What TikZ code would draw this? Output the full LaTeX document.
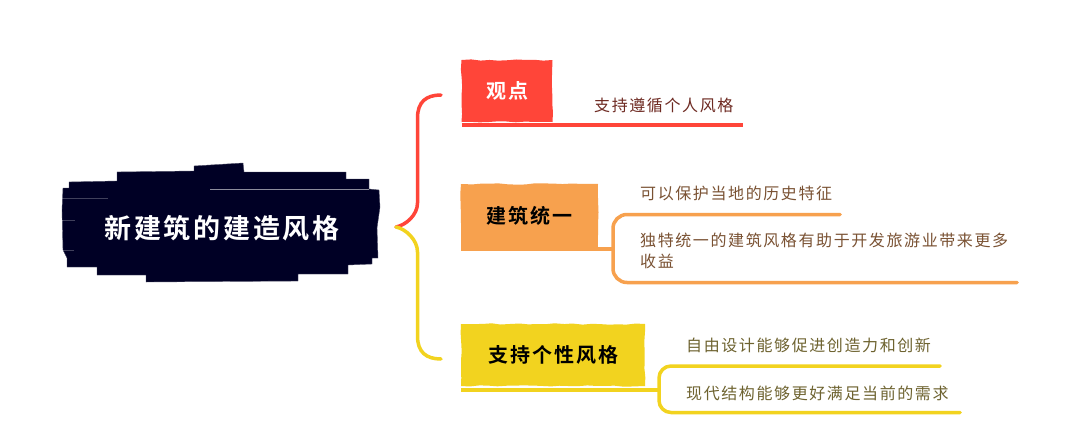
\documentclass[tikz,border=0pt]{standalone}
\usepackage{fontspec}
\usepackage{xcolor}
\usetikzlibrary{decorations.pathmorphing}
\newfontfamily\titlefont[LetterSpace=10]{Noto Sans CJK SC Bold}
\newfontfamily\leaffont[LetterSpace=10]{Noto Sans CJK SC}
\definecolor{navyink}{HTML}{000025}
\definecolor{redink}{HTML}{FF4539}
\definecolor{orangeink}{HTML}{F7A14E}
\definecolor{yellowink}{HTML}{F2D31F}
\definecolor{redtext}{HTML}{6E2A22}
\definecolor{orangetext}{HTML}{7A5233}
\definecolor{yellowtext}{HTML}{6E6330}
\tikzset{
	topicbox/.style={inner sep=0pt,outer sep=0pt,font=\titlefont\fontsize{20}{24}\selectfont,decorate,decoration={random steps,segment length=9pt,amplitude=0.7pt}},
	leaftext/.style={anchor=west,inner sep=0pt,font=\leaffont\fontsize{16}{21}\selectfont,align=left},
	branchline/.style={line width=3.5pt,line cap=round,rounded corners=#1},
	branchline/.default=16pt
}
\begin{document}
\begin{tikzpicture}[x=1pt,y=-1pt]
	\pgfmathsetseed{7}
	\useasboundingbox[fill=white] (0,0) rectangle (1080,434);
	%central topic
	\fill[navyink,draw=navyink!70!white,line width=0.4pt] (194,166) -- (243,163) -- (244,172) -- (346,172) -- (346,179) -- (369,179) -- (369,189) -- (379,190) -- (380,207) -- (377,228) -- (378,258) -- (372,258) -- (372,264) -- (348,265) -- (348,274) -- (298,274) -- (298,281) -- (146,282) -- (146,275) -- (97,275) -- (97,267) -- (67,267) -- (67,258) -- (63,250) -- (62,210) -- (63,188) -- (69,188) -- (69,182) -- (117,181) -- (117,172) -- (194,171) -- cycle;
	\draw[white,opacity=0.55,line width=0.7pt] (210,189) -- (369,189);
	\draw[white,opacity=0.25,line width=0.5pt] (63,198) -- (108,198);
	\draw[white,opacity=0.25,line width=0.5pt] (62,220) -- (75,220);
	\draw[white,opacity=0.25,line width=0.5pt] (63,250) -- (74,250);
	\node (CT_root) at (222,228) [inner sep=0pt,text=white,font=\titlefont\fontsize{27}{30}\selectfont] {新建筑的建造风格};
	\coordinate (CT_fork) at (396,227);
	
	%first topic
	\node (TP_view) at (507,91) [topicbox,fill=redink,text=white,minimum width=91pt,minimum height=62pt] {观点};
	\node (LF_view) at (594,105) [leaftext,text=redtext] {支持遵循个人风格};
	\coordinate (LF_view_end) at (743,125);
	\coordinate (TP_view_in) at (441,95);
	\draw[branchline=0pt,redink] (CT_fork) .. controls (406,225) and (417.5,215) .. (417.5,203) -- (417.5,118) .. controls (417.5,102) and (426,95) .. (TP_view_in);
	\draw[redink,line width=3.2pt] (TP_view.south west |- LF_view_end) -- (LF_view_end);
	
	%second topic
	\node (TP_unity) at (529.5,216) [topicbox,fill=orangeink,text=black,minimum width=137pt,minimum height=64pt] {建筑统一};
	\node (LF_unity1) at (640,193) [leaftext,text=orangetext] {可以保护当地的历史特征};
	\node (LF_unity2) at (640,251) [leaftext,text=orangetext] {独特统一的建筑风格有助于开发旅游业带来更多\\收益};
	\coordinate (TP_unity_foot) at (461,249);
	\coordinate (LF_unity_fork) at (613,249);
	\coordinate (LF_unity1_end) at (840,214.5);
	\coordinate (LF_unity2_end) at (1017,282.5);
	\draw[orangeink,line width=3.2pt] (TP_unity_foot) -- (LF_unity_fork);
	\draw[branchline=14pt,orangeink] (LF_unity1_end) -- (LF_unity_fork |- LF_unity1_end) -- (LF_unity_fork |- LF_unity2_end) -- (LF_unity2_end);
	
	%third topic
	\node (TP_style) at (553,355) [topicbox,fill=yellowink,text=black,minimum width=184pt,minimum height=62pt] {支持个性风格};
	\node (LF_style1) at (686,345) [leaftext,text=yellowtext] {自由设计能够促进创造力和创新};
	\node (LF_style2) at (686,393) [leaftext,text=yellowtext] {现代结构能够更好满足当前的需求};
	\coordinate (TP_style_foot) at (461,390);
	\coordinate (LF_style_fork) at (659,390);
	\coordinate (LF_style1_end) at (940,366);
	\coordinate (LF_style2_end) at (960,412.5);
	\coordinate (TP_style_in) at (441,359);
	\draw[branchline=0pt,yellowink] (CT_fork) .. controls (406,229) and (417.5,240) .. (417.5,252) -- (417.5,336) .. controls (417.5,352) and (426,359) .. (TP_style_in);
	\draw[yellowink,line width=3.2pt] (TP_style_foot) -- (LF_style_fork);
	\draw[branchline=12pt,yellowink] (LF_style1_end) -- (LF_style_fork |- LF_style1_end) -- (LF_style_fork |- LF_style2_end) -- (LF_style2_end);
\end{tikzpicture}
\end{document}
